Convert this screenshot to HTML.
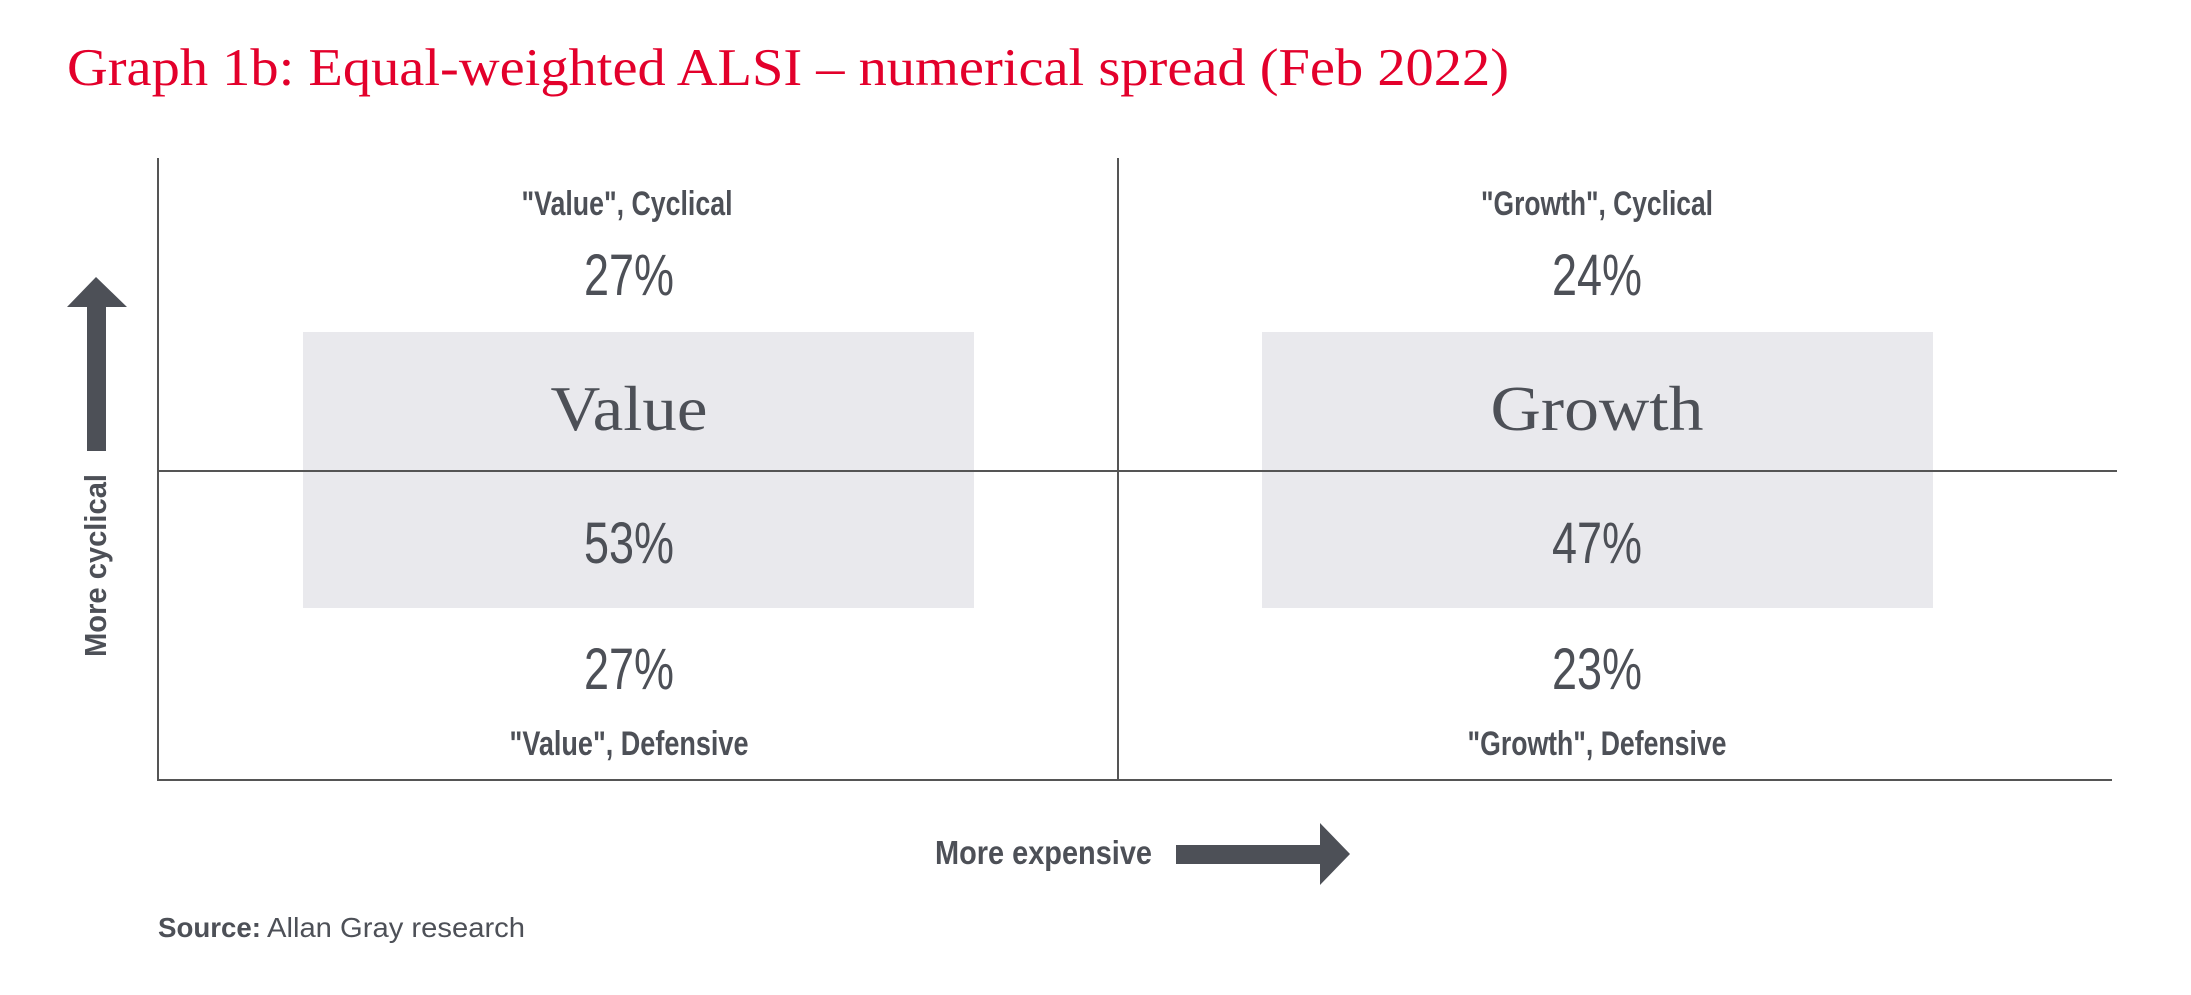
<!DOCTYPE html>
<html><head><meta charset="utf-8"><style>
html,body{margin:0;padding:0;background:#fff;width:2191px;height:995px;overflow:hidden}
</style></head><body>
<svg width="2191" height="995" viewBox="0 0 2191 995" xmlns="http://www.w3.org/2000/svg">
<rect width="2191" height="995" fill="#fff"/>
<text x="67" y="85" font-family="Liberation Serif, serif" font-size="53" fill="#e3002b" textLength="1442" lengthAdjust="spacingAndGlyphs">Graph 1b: Equal-weighted ALSI – numerical spread (Feb 2022)</text>
<rect x="303" y="332" width="671" height="276" fill="#e9e9ed"/>
<rect x="1262" y="332" width="671" height="276" fill="#e9e9ed"/>
<g stroke="#555" stroke-width="2">
<line x1="158" y1="158" x2="158" y2="781"/>
<line x1="1118" y1="158" x2="1118" y2="781"/>
<line x1="158" y1="471" x2="2117" y2="471"/>
<line x1="157" y1="780" x2="2112" y2="780"/>
</g>
<g fill="#4d5057" font-family="Liberation Sans, sans-serif" text-anchor="middle">
<g font-weight="bold" font-size="34">
<text x="627" y="215" textLength="211" lengthAdjust="spacingAndGlyphs">"Value", Cyclical</text>
<text x="1597" y="215" textLength="232" lengthAdjust="spacingAndGlyphs">"Growth", Cyclical</text>
<text x="629" y="755" textLength="239" lengthAdjust="spacingAndGlyphs">"Value", Defensive</text>
<text x="1597" y="755" textLength="259" lengthAdjust="spacingAndGlyphs">"Growth", Defensive</text>
</g>
<g font-size="58">
<text x="629" y="295" textLength="90" lengthAdjust="spacingAndGlyphs">27%</text>
<text x="1597" y="295" textLength="90" lengthAdjust="spacingAndGlyphs">24%</text>
<text x="629" y="563" textLength="90" lengthAdjust="spacingAndGlyphs">53%</text>
<text x="1597" y="563" textLength="90" lengthAdjust="spacingAndGlyphs">47%</text>
<text x="629" y="689" textLength="90" lengthAdjust="spacingAndGlyphs">27%</text>
<text x="1597" y="689" textLength="90" lengthAdjust="spacingAndGlyphs">23%</text>
</g>
<g font-family="Liberation Serif, serif" font-size="64">
<text x="629" y="430" textLength="157" lengthAdjust="spacingAndGlyphs">Value</text>
<text x="1597" y="430" textLength="213" lengthAdjust="spacingAndGlyphs">Growth</text>
</g>
</g>
<g fill="#4d5057">
<polygon points="96,277 127,307 106,307 106,451 87,451 87,307 67,307"/>
<polygon points="1176,845 1320,845 1320,823 1350,854 1320,885 1320,864 1176,864"/>
<text transform="translate(106,657) rotate(-90)" font-family="Liberation Sans, sans-serif" font-weight="bold" font-size="31" textLength="183" lengthAdjust="spacingAndGlyphs">More cyclical</text>
<text x="935" y="864" font-family="Liberation Sans, sans-serif" font-weight="bold" font-size="33" textLength="217" lengthAdjust="spacingAndGlyphs">More expensive</text>
<text x="158" y="937" font-family="Liberation Sans, sans-serif" font-size="28"><tspan font-weight="bold" textLength="103" lengthAdjust="spacingAndGlyphs">Source:</tspan><tspan x="267" textLength="258" lengthAdjust="spacingAndGlyphs">Allan Gray research</tspan></text>
</g>
</svg>
</body></html>
